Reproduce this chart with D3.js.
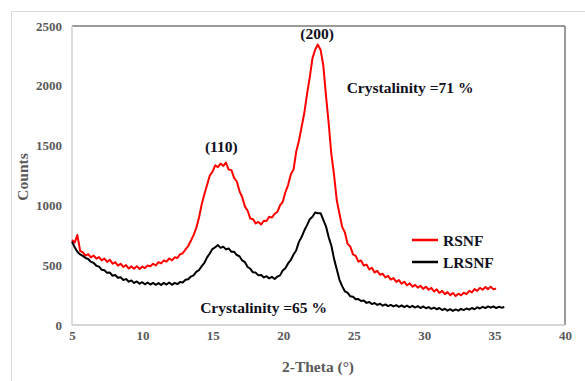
<!DOCTYPE html>
<html>
<head>
<meta charset="utf-8">
<script src="https://cdn.jsdelivr.net/npm/d3@7"></script>
<style>
  html, body { margin: 0; padding: 0; background: #fff; }
  svg { display: block; }
  text { font-family: "Liberation Serif", "Times New Roman", serif; }
</style>
</head>
<body>
<svg id="chart" width="585" height="381"></svg>
<script>
// ---- Data ----
const twoTheta = [
  5.00, 5.19, 5.38, 5.58, 5.77, 5.96, 6.15, 6.34, 6.53, 6.73,
  6.92, 7.11, 7.30, 7.49, 7.69, 7.88, 8.07, 8.26, 8.45, 8.64,
  8.84, 9.03, 9.22, 9.41, 9.60, 9.80, 9.99, 10.18, 10.37, 10.56,
  10.75, 10.95, 11.14, 11.33, 11.52, 11.71, 11.90, 12.10, 12.29, 12.48,
  12.67, 12.86, 13.06, 13.25, 13.44, 13.63, 13.82, 14.01, 14.21, 14.40,
  14.59, 14.78, 14.97, 15.17, 15.36, 15.55, 15.74, 15.93, 16.12, 16.32,
  16.51, 16.70, 16.89, 17.08, 17.28, 17.47, 17.66, 17.85, 18.04, 18.23,
  18.43, 18.62, 18.81, 19.00, 19.19, 19.39, 19.58, 19.77, 19.96, 20.15,
  20.34, 20.54, 20.73, 20.92, 21.11, 21.30, 21.49, 21.69, 21.88, 22.07,
  22.26, 22.45, 22.65, 22.84, 23.03, 23.22, 23.41, 23.60, 23.80, 23.99,
  24.18, 24.37, 24.56, 24.76, 24.95, 25.14, 25.33, 25.52, 25.71, 25.91,
  26.10, 26.29, 26.48, 26.67, 26.87, 27.06, 27.25, 27.44, 27.63, 27.82,
  28.02, 28.21, 28.40, 28.59, 28.78, 28.98, 29.17, 29.36, 29.55, 29.74,
  29.93, 30.13, 30.32, 30.51, 30.70, 30.89, 31.08, 31.28, 31.47, 31.66,
  31.85, 32.04, 32.24, 32.43, 32.62, 32.81, 33.00, 33.20, 33.39, 33.58,
  33.77, 33.96, 34.15, 34.35, 34.54, 34.73, 34.92, 35.11, 35.31, 35.50,
  35.69
];

const rsnfCounts = [
  711, 690, 752, 620, 608, 580, 592, 566, 581, 555,
  568, 541, 556, 528, 546, 512, 525, 497, 512, 486,
  501, 472, 490, 470, 492, 468, 489, 476, 497, 490,
  512, 498, 526, 515, 540, 530, 556, 541, 566, 560,
  590, 600, 632, 660, 705, 752, 810, 895, 1010, 1095,
  1170, 1250, 1280, 1335, 1320, 1350, 1330, 1358, 1300, 1295,
  1230, 1200, 1120, 1070, 990, 955, 890, 885, 850, 862,
  840, 872, 870, 905, 898, 930, 945, 1000, 1030, 1110,
  1170, 1260, 1300, 1450, 1540, 1655, 1770, 1935, 2070, 2230,
  2300, 2345, 2300, 2170, 1920, 1690, 1430, 1260, 1040, 930,
  820, 775, 680, 655, 590, 578, 530, 540, 498, 505,
  465, 478, 440, 452, 420, 428, 398, 410, 380, 392,
  360, 375, 345, 362, 332, 348, 320, 336, 312, 328,
  302, 320, 295, 310, 280, 298, 268, 285, 258, 275,
  250, 268, 242, 262, 248, 270, 258, 285, 272, 300,
  285, 310, 295, 318, 300, 320, 298, 305
];

const lrsnfCounts = [
  697, 650, 612, 590, 578, 560, 552, 528, 520, 495,
  488, 462, 458, 436, 438, 412, 418, 395, 400, 376,
  384, 362, 372, 352, 364, 345, 358, 340, 355, 338,
  352, 336, 350, 334, 352, 338, 355, 336, 352, 342,
  360, 355, 378, 382, 405, 415, 445, 458, 492, 520,
  565, 598, 635, 650, 668, 645, 655, 632, 640, 612,
  612, 585, 575, 540, 525, 485, 470, 440, 438, 415,
  418, 398, 408, 390, 402, 385, 405, 415, 455, 475,
  515, 545, 590, 625, 695, 735, 790, 835, 885, 905,
  940, 935, 935, 880, 825, 735, 665, 555, 465, 378,
  325, 282, 270, 240, 236, 215, 218, 200, 205, 185,
  192, 175, 184, 168, 178, 162, 172, 158, 168, 155,
  166, 152, 164, 150, 162, 148, 160, 146, 158, 142,
  155, 140, 150, 135, 146, 132, 142, 125, 136, 120,
  132, 118, 130, 120, 135, 125, 138, 128, 142, 132,
  148, 138, 152, 142, 155, 145, 155, 142, 152, 145,
  150
];

const xTicks = [5, 10, 15, 20, 25, 30, 35, 40];
const yTicks = [0, 500, 1000, 1500, 2000, 2500];

const seriesNames = ["RSNF", "LRSNF"];
const seriesColors = ["#ff0000", "#000000"];

const peakLabels = [
  { text: "(110)", x: 15.6, y: 1450 },
  { text: "(200)", x: 22.4, y: 2395 }
];
const crystLabels = [
  { text: "Crystalinity =71 %", x: 24.5, y: 1940 },
  { text: "Crystalinity =65 %", x: 14.1, y: 100 }
];

// ---- Drawing ----
(function () {
const svg = d3.select("#chart");
const W = 585, H = 381;
const pLeft = 72, pRight = 565, pTop = 26, pBottom = 325;

const x = d3.scaleLinear().domain([5, 40]).range([pLeft, pRight]);
const y = d3.scaleLinear().domain([0, 2500]).range([pBottom, pTop]);

// outer chart frame
svg.append("path")
  .attr("d", `M11.5,${H} L11.5,11.5 L${W},11.5`)
  .attr("fill", "none").attr("stroke", "#d9d9d9").attr("stroke-width", 1);

// plot frame
svg.append("line").attr("x1", pLeft).attr("x2", pRight).attr("y1", pTop).attr("y2", pTop)
  .attr("stroke", "#7a7a7a").attr("stroke-width", 1.5);
svg.append("line").attr("x1", pRight).attr("x2", pRight).attr("y1", pTop).attr("y2", pBottom)
  .attr("stroke", "#7a7a7a").attr("stroke-width", 1.5);
svg.append("line").attr("x1", pLeft).attr("x2", pLeft).attr("y1", pTop).attr("y2", pBottom)
  .attr("stroke", "#d0d0d0").attr("stroke-width", 1.5);
svg.append("line").attr("x1", pLeft).attr("x2", pRight).attr("y1", pBottom).attr("y2", pBottom)
  .attr("stroke", "#c8c8c8").attr("stroke-width", 1.5);

// axes (labels only)
const xAxis = svg.append("g").attr("transform", `translate(0,${pBottom})`)
  .call(d3.axisBottom(x).tickValues(xTicks).tickSize(0).tickPadding(6).tickFormat(d3.format("d")));
const yAxis = svg.append("g").attr("transform", `translate(${pLeft},0)`)
  .call(d3.axisLeft(y).tickValues(yTicks).tickSize(0).tickPadding(10).tickFormat(d3.format("d")));
[xAxis, yAxis].forEach(g => {
  g.select(".domain").remove();
  g.selectAll("text")
    .attr("font-family", "Liberation Serif, serif")
    .attr("font-size", 13)
    .attr("font-weight", "bold")
    .attr("fill", "#595959");
});

// axis titles
svg.append("text")
  .attr("x", 318).attr("y", 372)
  .attr("text-anchor", "middle")
  .attr("font-size", 15.5).attr("font-weight", "bold").attr("fill", "#595959")
  .text("2-Theta (°)");
svg.append("text")
  .attr("transform", "translate(28,177) rotate(-90)")
  .attr("text-anchor", "middle")
  .attr("font-size", 15.5).attr("font-weight", "bold").attr("fill", "#595959")
  .text("Counts");

// series
const line = d3.line()
  .x(d => x(d[0]))
  .y(d => y(d[1]));

const series = [rsnfCounts, lrsnfCounts].map((vals, k) => ({
  name: seriesNames[k],
  color: seriesColors[k],
  points: vals.map((v, i) => [twoTheta[i], v])
}));

svg.append("g").selectAll("path")
  .data(series)
  .join("path")
  .attr("d", d => line(d.points))
  .attr("fill", "none")
  .attr("stroke", d => d.color)
  .attr("stroke-width", 2)
  .attr("stroke-linejoin", "round");

// annotations
svg.append("g").selectAll("text")
  .data(peakLabels)
  .join("text")
  .attr("x", d => x(d.x)).attr("y", d => y(d.y))
  .attr("text-anchor", "middle")
  .attr("font-size", 15.5).attr("font-weight", "bold").attr("fill", "#101020")
  .text(d => d.text);

svg.append("g").selectAll("text")
  .data(crystLabels)
  .join("text")
  .attr("x", d => x(d.x)).attr("y", d => y(d.y))
  .attr("font-size", 15.5).attr("font-weight", "bold").attr("fill", "#101020")
  .text(d => d.text);

// legend
const legend = svg.append("g").attr("transform", "translate(412,240)");
const items = legend.selectAll("g")
  .data(series)
  .join("g")
  .attr("transform", (d, i) => `translate(0,${i * 22})`);
items.append("line")
  .attr("x1", 0).attr("x2", 26).attr("y1", 0).attr("y2", 0)
  .attr("stroke", d => d.color).attr("stroke-width", 2.5);
items.append("text")
  .attr("x", 31).attr("y", 5.5)
  .attr("font-size", 15.5).attr("font-weight", "bold").attr("fill", "#101020")
  .text(d => d.name);
})();
</script>
</body>
</html>
